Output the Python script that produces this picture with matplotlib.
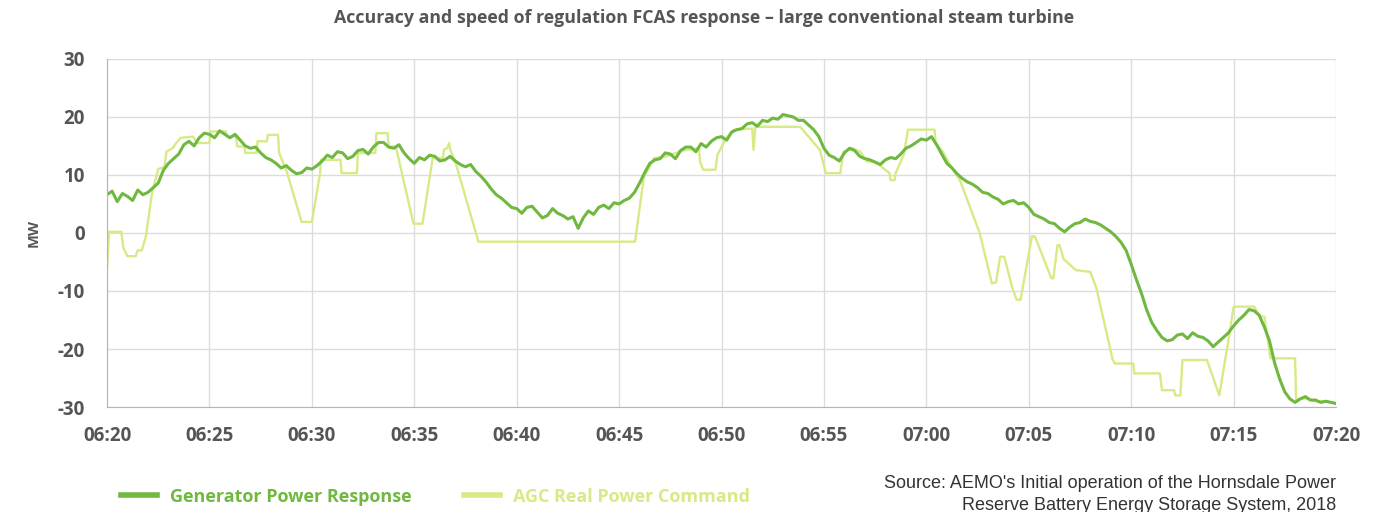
import matplotlib.pyplot as plt

# minutes after 06:20, sampled every quarter minute
GEN_T = [i * 0.25 for i in range(241)]
GEN_MW = [
    6.6,
    7.2, 5.4, 6.8, 6.3, 5.6, 7.4, 6.6, 7.0, 7.8, 8.6, 10.8, 12.0, 12.8, 13.6, 15.2, 15.8, 15.0, 16.4, 17.2, 17.0,
    16.4, 17.6, 17.0, 16.4, 17.0, 16.0, 15.0, 14.6, 14.8, 13.8, 13.0, 12.6, 12.0, 11.2, 11.6, 10.8, 10.2, 10.4, 11.2, 11.0,
    11.6, 12.4, 13.4, 13.0, 14.0, 13.8, 12.8, 13.2, 14.2, 14.4, 13.6, 14.8, 15.6, 15.6, 14.8, 14.6, 15.2, 13.8, 12.8, 12.0,
    13.0, 12.6, 13.4, 13.2, 12.4, 12.6, 13.2, 12.4, 11.8, 11.4, 11.8, 10.6, 9.8, 8.8, 7.6, 6.6, 6.0, 5.2, 4.4, 4.2,
    3.4, 4.4, 4.6, 3.6, 2.6, 3.0, 4.2, 3.4, 3.0, 2.4, 2.8, 0.8, 2.6, 3.8, 3.2, 4.4, 4.8, 4.2, 5.2, 5.0,
    5.6, 6.0, 7.0, 8.6, 10.4, 12.0, 12.6, 12.8, 13.8, 13.6, 12.8, 14.2, 14.8, 14.8, 14.0, 15.4, 14.8, 15.8, 16.4, 16.6,
    16.0, 17.4, 17.8, 18.0, 18.8, 19.0, 18.4, 19.4, 19.2, 19.8, 19.6, 20.4, 20.2, 20.0, 19.4, 19.4, 18.6, 17.8, 16.6, 14.6,
    13.4, 13.0, 12.4, 13.8, 14.6, 14.2, 13.2, 12.8, 12.6, 12.2, 11.8, 12.6, 13.0, 12.8, 13.6, 14.6, 15.0, 15.6, 16.2, 16.0,
    16.6, 15.2, 13.6, 12.0, 11.2, 10.2, 9.4, 8.8, 8.4, 7.8, 7.0, 6.8, 6.2, 5.8, 5.0, 5.4, 5.6, 5.0, 5.2, 4.4,
    3.2, 2.8, 2.4, 1.8, 1.6, 0.8, 0.2, 1.0, 1.6, 1.8, 2.4, 2.0, 1.8, 1.4, 0.8, 0.2, -0.6, -1.6, -3.0, -5.4,
    -8.0, -10.4, -13.2, -15.4, -16.8, -18.0, -18.6, -18.4, -17.6, -17.4, -18.2, -17.2, -17.8, -18.0, -18.6, -19.6, -18.8, -18.0, -17.2, -16.0,
    -15.0, -14.2, -13.2, -13.4, -14.2, -16.2, -18.6, -22.4, -25.2, -27.4, -28.6, -29.2, -28.6, -28.2, -28.8, -28.8, -29.2, -29.0, -29.2, -29.4,
]

# AGC command vertices (minutes after 06:20, MW)
AGC_T = [
    0.0, 0.1, 0.7, 0.8, 1.0, 1.4, 1.5, 1.7, 1.9, 2.2, 2.5, 2.8, 2.9, 3.2, 3.4, 3.6,
    4.2, 4.4, 5.0, 5.05, 5.8, 5.85, 6.3, 6.35, 6.7, 6.75, 7.3, 7.35, 7.8, 7.85,
    8.35, 8.4, 8.6, 8.8, 9.5, 10.0, 10.4, 10.45, 11.4, 11.45, 12.2, 12.25, 13.1,
    13.15, 13.7, 13.75, 14.1, 14.96, 15.4, 15.85, 15.9, 16.4, 16.45, 16.6, 16.7,
    16.75, 17.0, 18.13, 25.78, 26.2, 26.7, 27.3, 28.1, 28.9, 28.95, 29.1, 29.7,
    29.8, 30.26, 30.6, 31.5, 31.56, 31.65, 33.84, 34.8, 35.1, 35.8, 35.95, 36.4,
    36.77, 37.1, 37.5, 38.2, 38.25, 38.45, 38.5, 38.9, 39.1, 40.4, 40.45, 40.8,
    41.2, 41.65, 42.6, 43.2, 43.4, 43.6, 43.8, 44.2, 44.4, 44.6, 45.15, 45.3,
    46.1, 46.2, 46.4, 46.5, 46.7, 47.3, 48.0, 48.3, 49.1, 49.2, 50.1, 50.15,
    51.4, 51.5, 52.1, 52.15, 52.4, 52.5, 53.7, 54.3, 54.8, 55.0, 56.0, 56.3,
    56.5, 56.8, 58.0, 58.05, 58.5, 59.0, 59.5, 60.0,
]
AGC_MW = [
    -6.0, 0.2, 0.2, -2.6, -4.0, -4.0, -3.0, -3.0, -0.5, 7.0, 11.0, 11.4, 14.0, 14.6, 15.6, 16.4,
    16.6, 15.5, 15.5, 17.5, 17.5, 16.6, 16.6, 14.9, 14.9, 13.8, 13.8, 15.8, 15.8, 16.9,
    16.9, 13.8, 12.1, 10.3, 1.9, 1.9, 10.3, 12.6, 12.6, 10.3, 10.3, 13.8, 13.8,
    17.2, 17.2, 14.9, 14.9, 1.6, 1.6, 11.7, 12.9, 12.9, 14.4, 14.6, 15.5,
    14.4, 12.3, -1.5, -1.5, 9.5, 12.9, 13.2, 14.2, 14.6, 12.3, 10.9, 10.9,
    13.5, 16.5, 17.8, 18.0, 14.3, 18.3, 18.3, 14.3, 10.3, 10.3, 14.0, 14.6,
    14.0, 12.3, 12.3, 10.3, 9.1, 9.1, 10.3, 13.5, 17.8, 17.8, 15.5, 14.0,
    11.5, 9.0, 0.0, -8.7, -8.5, -4.1, -4.1, -9.5, -11.5, -11.5, -0.6, -0.6,
    -7.8, -7.8, -2.1, -2.1, -4.5, -6.4, -6.7, -9.5, -21.9, -22.5, -22.5, -24.2,
    -24.2, -27.1, -27.1, -28.0, -28.0, -21.9, -21.9, -28.0, -17.3, -12.7, -12.7, -14.4,
    -14.4, -21.6, -21.6, -28.7, -28.5, -29.0, -29.0, -29.3,
]

X_TICKS = list(range(0, 61, 5))
X_LABELS = ["06:20", "06:25", "06:30", "06:35", "06:40", "06:45", "06:50",
            "06:55", "07:00", "07:05", "07:10", "07:15", "07:20"]
Y_TICKS = [-30, -20, -10, 0, 10, 20, 30]
SOURCE = ["Source: AEMO's Initial operation of the Hornsdale Power",
          "Reserve Battery Energy Storage System, 2018"]

GEN_COLOR = "#70b840"
AGC_COLOR = "#d6ea86"
TEXT = "#555555"

plt.rcParams["font.family"] = ["Open Sans", "DejaVu Sans"]
plt.rcParams["axes.unicode_minus"] = False

fig = plt.figure(figsize=(13.99, 5.12), dpi=100)
ax = fig.add_axes([0.0765, 0.205, 0.8785, 0.68])

ax.plot(AGC_T, AGC_MW, color=AGC_COLOR, linewidth=1.7, label="AGC Real Power Command")
ax.plot(GEN_T, GEN_MW, color=GEN_COLOR, linewidth=2.2, label="Generator Power Response")

ax.set_xlim(0, 60)
ax.set_ylim(-30, 30)
ax.set_xticks(X_TICKS, X_LABELS)
ax.set_yticks(Y_TICKS)
ax.grid(True, color="#dcdcdc", linewidth=1.0)
ax.set_axisbelow(True)
for side in ("top", "right"):
    ax.spines[side].set_visible(False)
for side in ("left", "bottom"):
    ax.spines[side].set_color("#b5b5b5")
ax.tick_params(axis="x", length=0, labelsize=13.5, labelcolor=TEXT, pad=14)
ax.tick_params(axis="y", length=0, labelsize=13.5, labelcolor=TEXT, pad=16)
for lbl in ax.get_xticklabels() + ax.get_yticklabels():
    lbl.set_fontweight("bold")
ax.set_ylabel("MW", fontsize=10.5, fontweight="bold", color=TEXT, labelpad=12)

fig.text(0.503, 0.965, "Accuracy and speed of regulation FCAS response \u2013 large conventional steam turbine",
         ha="center", va="center", fontsize=12.8, fontweight="bold", color=TEXT)

handles, labels = ax.get_legend_handles_labels()
leg = fig.legend(handles[::-1], labels[::-1], loc="center left", bbox_to_anchor=(0.075, 0.03),
                 ncol=2, frameon=False, fontsize=13, handlelength=2.0, columnspacing=2.9,
                 handletextpad=0.7)
for txt, col in zip(leg.get_texts(), (GEN_COLOR, AGC_COLOR)):
    txt.set_color(col)
    txt.set_fontweight("bold")
for ln in leg.get_lines():
    ln.set_linewidth(4)

# second source line is clipped by the bottom edge, as in the original
for y, line in zip((0.055, 0.012), SOURCE):
    fig.text(0.955, y, line, ha="right", va="center", fontsize=13, color="#333333",
             family=["Liberation Sans", "DejaVu Sans"])

fig.savefig("out.png", dpi=100)
